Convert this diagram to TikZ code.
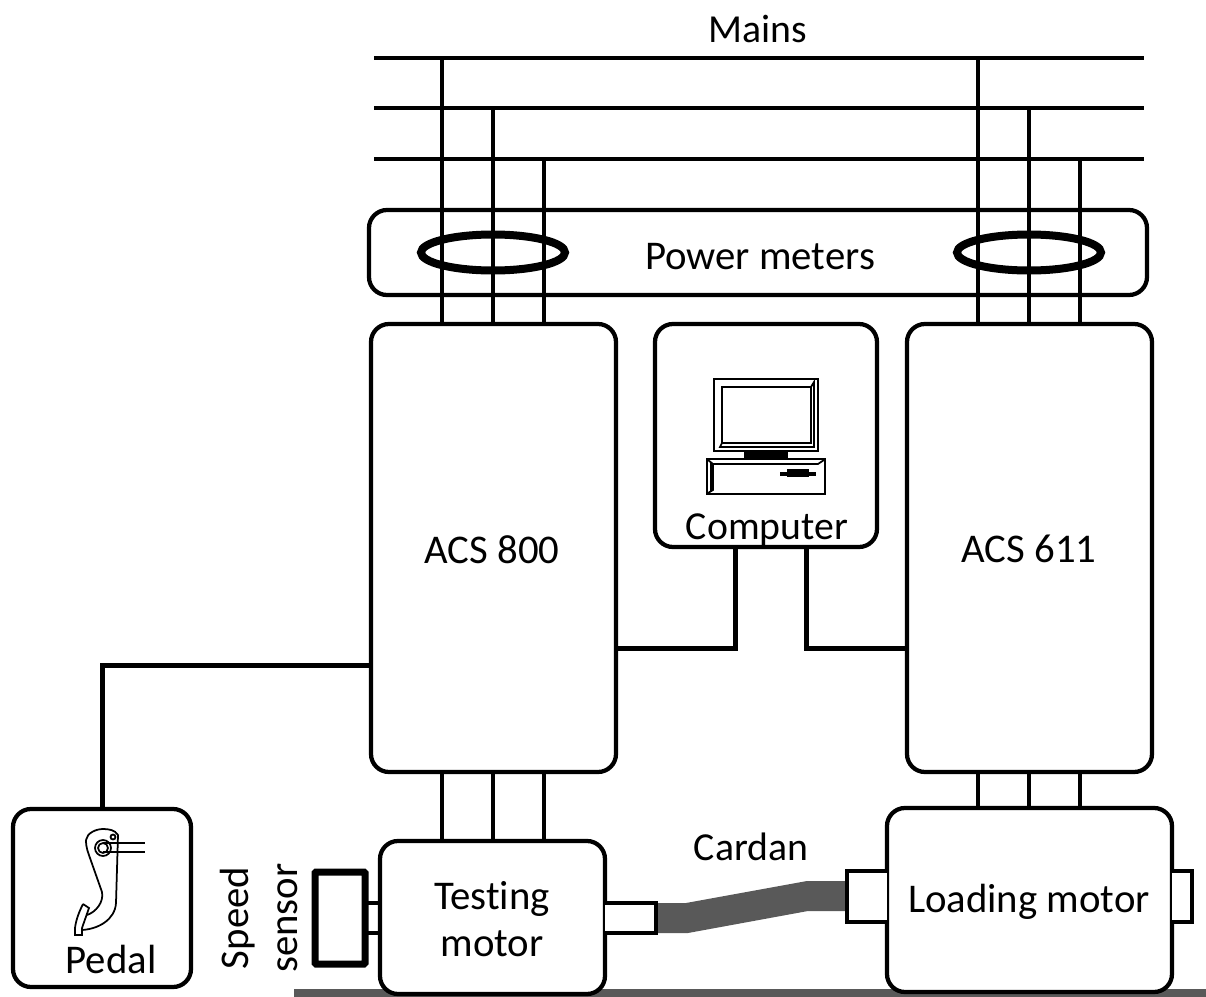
\documentclass[tikz,border=0pt]{standalone}
\usepackage{fontspec}
\setmainfont[Ligatures=NoCommon]{Carlito}
\usetikzlibrary{positioning}

\definecolor{shaftgray}{HTML}{595959}
\tikzset{
  box/.style={draw, line width=0.85mm, rounded corners=3.6mm, fill=white, outer sep=0pt, inner sep=0pt, align=center},
  wire/.style={line width=0.8mm},
  sig/.style={line width=1mm},
  txt/.style={inner sep=0pt, align=center, font=\fontsize{23.2}{27}\selectfont},
  txtsmall/.style={txt, font=\fontsize{22.6}{27}\selectfont},
  thin/.style={line width=0.35mm},
  clamp/.style={draw, line width=1.6mm},
  shaft/.style={draw, line width=0.8mm, fill=white}
}

\begin{document}
\begin{tikzpicture}[x=0.2mm, y=-0.2mm]
  \useasboundingbox (0, 0) rectangle (1206, 997);

  \fill [shaftgray] (294, 989) rectangle (1206, 997);

  \node [box, minimum width=155.6mm, minimum height=17mm] (meters) at (758, 252.5) {};
  \node [box, minimum width=49mm, minimum height=89.6mm] (acs800) at (493.5, 548) {};
  \node [box, minimum width=44.4mm, minimum height=44.6mm] (computer) at (766, 435.5) {};
  \node [box, minimum width=49mm, minimum height=89.6mm] (acs611) at (1029.5, 548) {};
  \node [box, minimum width=35.6mm, minimum height=35.6mm] (pedal) at (102, 898) {};
  \node [box, minimum width=45mm, minimum height=30.6mm] (testing) at (492.5, 917.5) {};
  \node [box, minimum width=57mm, minimum height=36.8mm] (loading) at (1029.5, 900) {};

  % mains
  \foreach \y in {58, 108, 159}
    \draw [wire] (374, \y) -- (1144, \y);
  \foreach \x/\y/\n in {442/58/acs800, 493/108/acs800, 544/159/acs800, 978/58/acs611, 1029/108/acs611, 1080/159/acs611}
    \draw [wire] (\x, \y) -- (\x, \y |- \n.north);
  \foreach \x in {442, 493, 544}
    \draw [wire] (\x, 0 |- acs800.south) -- (\x, 0 |- testing.north);
  \foreach \x in {978, 1029, 1080}
    \draw [wire] (\x, 0 |- acs611.south) -- (\x, 0 |- loading.north);

  \draw [clamp] (493, 252.5) ellipse (72 and 18);
  \draw [clamp] (1029, 252.5) ellipse (72 and 18);

  % signal lines
  \draw [sig] (acs800.east |- 0, 648) -| (computer.south -| 735, 0);
  \draw [sig] (acs611.west |- 0, 648) -| (computer.south -| 806, 0);
  \draw [sig] (acs800.west |- 0, 665) -| (pedal.north);

  % cardan
  \fill [shaftgray] (656, 903) -- (686, 903) -- (807, 881) -- (847, 881) -- (847, 911) -- (808, 911) -- (688, 933) -- (656, 933) -- cycle;
  \draw [shaft] (testing.east |- 0, 903) -- (656, 903) -- (656, 933) -- (testing.east |- 0, 933);
  \draw [shaft] (loading.west |- 0, 871) -- (847, 871) -- (847, 922) -- (loading.west |- 0, 922);
  \draw [shaft] (loading.east |- 0, 871) -- (1192, 871) -- (1192, 922) -- (loading.east |- 0, 922);

  % speed sensor
  \node [draw, line width=1.4mm, rounded corners=0.2mm, minimum width=10mm, minimum height=18.4mm, inner sep=0pt, outer sep=0pt] (sensor) at (340, 918) {};
  \draw [wire] (sensor.east |- 0, 903) -- (testing.west |- 0, 903);
  \draw [wire] (sensor.east |- 0, 933) -- (testing.west |- 0, 933);

  % computer
  \draw [line width=0.5mm, fill=white] (714, 379) rectangle (818, 451);
  \draw [thin] (722, 387) rectangle (811, 443);
  \draw [thin] (722, 443) -- (720, 447) -- (814, 447) -- (814, 382) -- (811, 387);
  \fill (744, 451) rectangle (788, 458);
  \draw [line width=0.5mm, fill=white] (707, 459) rectangle (825, 494);
  \draw [thin] (708, 460) -- (713, 464) -- (818, 464) -- (824, 460);
  \draw [thin] (713, 464) -- (713, 490) -- (708, 493);
  \draw [thin] (711, 462) -- (711, 491);
  \fill (787, 469) rectangle (809, 477);
  \fill (780, 471.5) rectangle (816, 475.5);

  % pedal
  \draw [thin] (86, 840) .. controls (87, 833) and (96, 829) .. (103, 829) .. controls (109, 829) and (115, 830) .. (118, 835) -- (116, 903) .. controls (115, 920) and (98, 929) .. (82, 930);
  \draw [thin] (86, 840) .. controls (86, 848) and (88, 852) .. (90, 858) -- (102, 892) .. controls (104, 902) and (96, 912) .. (87, 915);
  \draw [thin] (83, 904) -- (89, 908) -- (82, 928) -- (82, 935) -- (75, 935) -- (75, 928) .. controls (76, 920) and (79, 912) .. (83, 904);
  \draw [thin] (103, 848) circle (8);
  \draw [thin] (103, 848) circle (5);
  \draw [thin] (113, 837) circle (2.5);
  \draw [thin] (103, 843) -- (145, 843);
  \draw [thin] (103, 852) -- (145, 852);

  % labels
  \node [txtsmall] (mainslabel) at (758, 29) {Mains};
  \node [txt] (meterslabel) at (760, 257) {Power meters};
  \node [txt] (acs800label) at (492, 550) {ACS 800};
  \node [txt] (acs611label) at (1029, 549) {ACS 611};
  \node [txtsmall] (computerlabel) at (767, 530) {Computer};
  \node [txtsmall] (cardanlabel) at (751, 847) {Cardan};
  \node [txt] (testinglabel) at (492, 919) {Testing\\motor};
  \node [txt] (loadinglabel) at (1029, 902) {Loading motor};
  \node [txt] (pedallabel) at (111, 959) {Pedal};
  \node [txt, rotate=90, font=\fontsize{23.2}{28}\selectfont] (sensorlabel) at (259, 918) {Speed\\sensor};
\end{tikzpicture}
\end{document}
